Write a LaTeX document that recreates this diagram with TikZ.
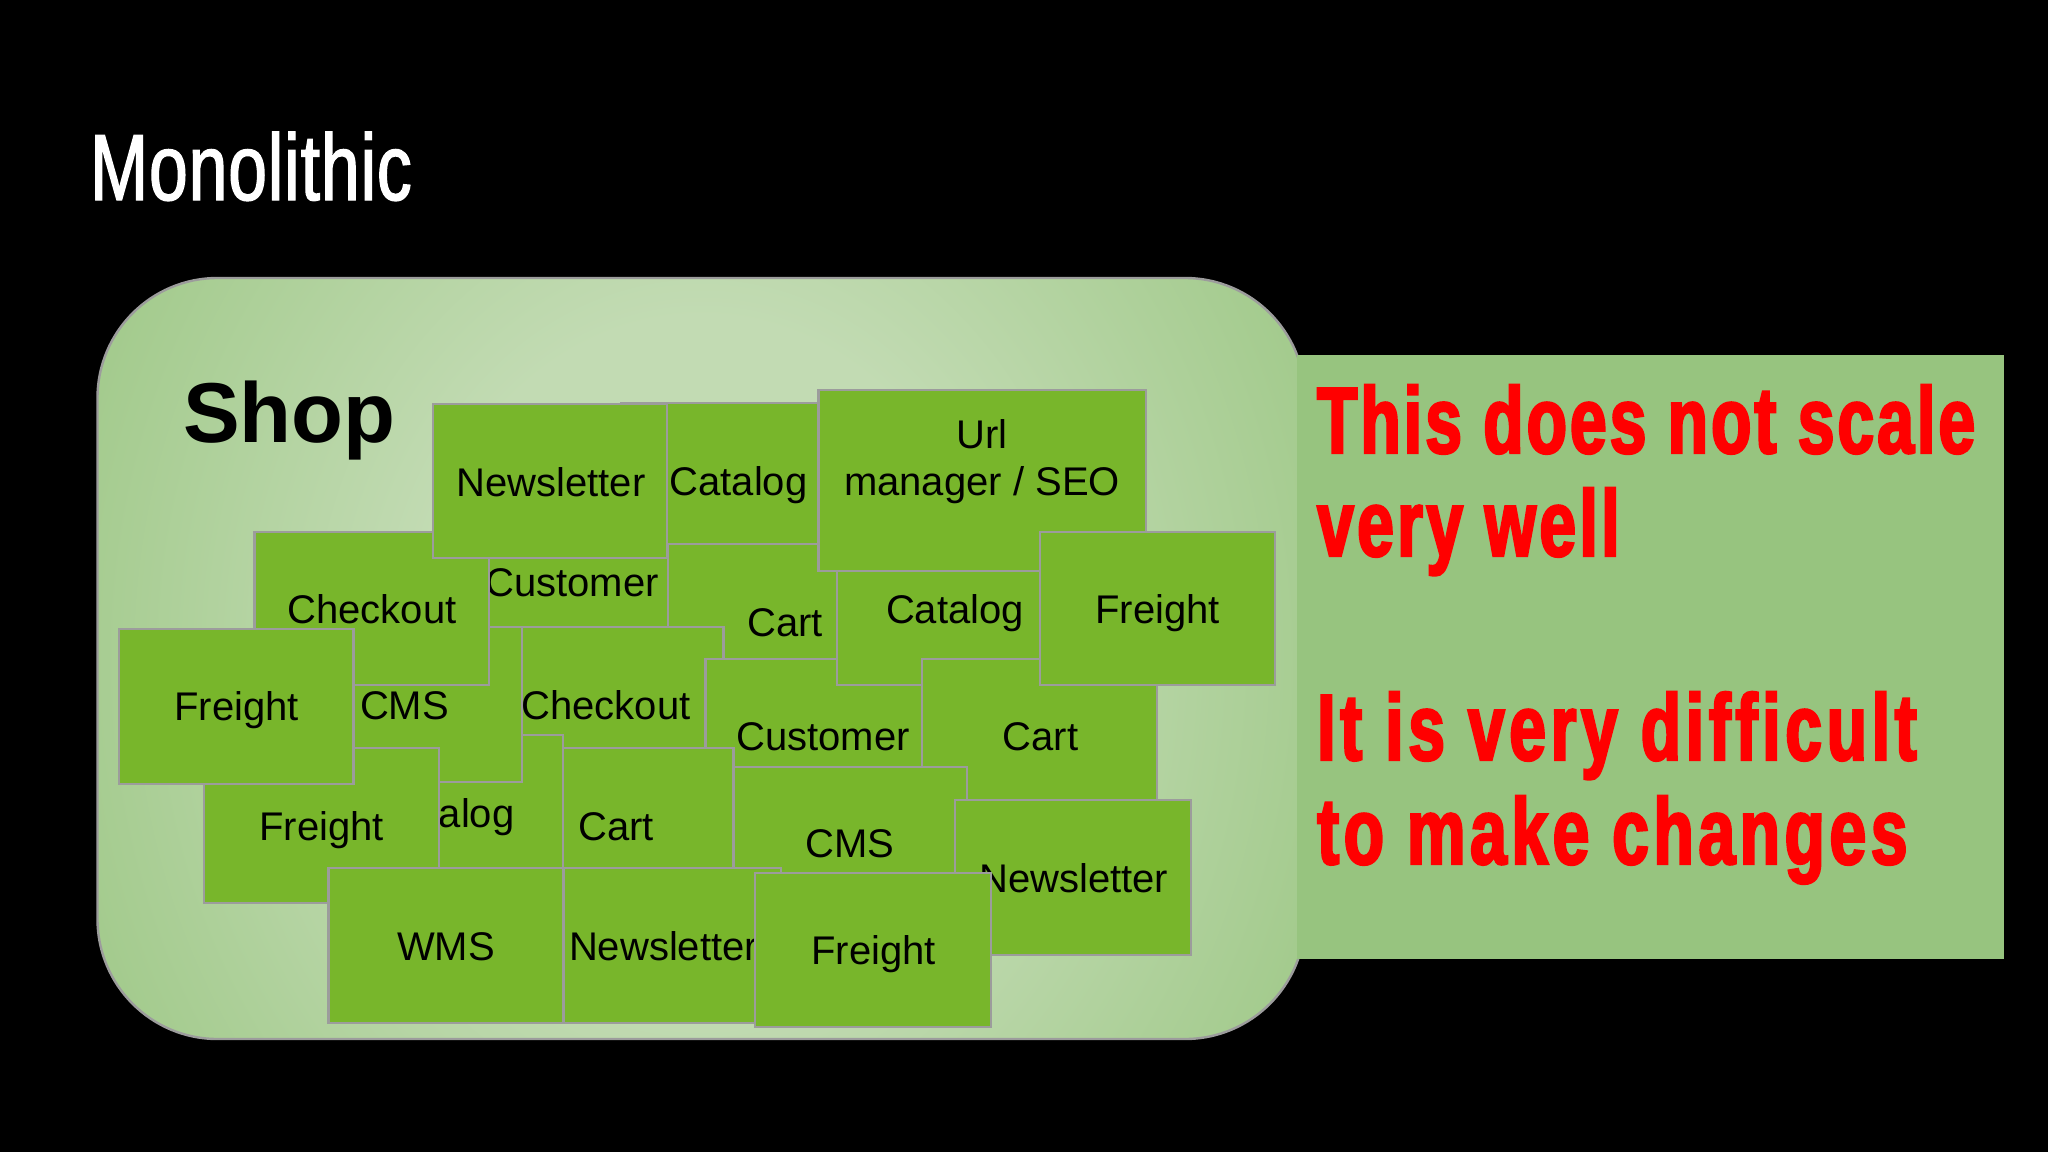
\documentclass[tikz,border=0pt]{standalone}
\usepackage{fontspec}
\setmainfont{Liberation Sans}
\newfontfamily\oswaldlight[FakeStretch=0.74,FakeBold=1.5,LetterSpace=1]{Liberation Sans}
\newfontfamily\oswaldbold[UprightFont=* Bold,FakeStretch=0.70,FakeBold=2.6]{Liberation Sans}
\definecolor{boxgreen}{HTML}{78B62B}
\definecolor{edgegray}{HTML}{9C9C9C}
\definecolor{panelgreen}{HTML}{97C47F}
\definecolor{glowin}{HTML}{C2DBB3}
\definecolor{glowout}{HTML}{93C279}
\definecolor{alertred}{HTML}{FF0000}
\pgfdeclareradialshading{shopglow}{\pgfpoint{0bp}{0bp}}{color(0bp)=(glowin); color(12bp)=(glowin); color(35bp)=(glowout); color(100bp)=(glowout)}
\tikzset{
  modbox/.style={draw=edgegray,line width=2.4pt,fill=boxgreen,inner sep=0pt,outer sep=0pt},
  modtext/.style={anchor=base,inner sep=0pt,font=\fontsize{40}{48}\selectfont,text=black},
  redtext/.style={anchor=base west,inner sep=0pt,text=alertred,font=\oswaldbold\fontsize{94}{100}\selectfont}
}
% name, left, top, right, bottom, text centre x, baseline y, text
\newcommand{\modbox}[8]{%
  \path[modbox] (#2,#3) rectangle (#4,#5);
  \coordinate (#1) at (#6,#7);
  \node[modtext] (#1-t) at (#1) {#8};
}
\begin{document}
\begin{tikzpicture}[x=1pt,y=-1pt]
\useasboundingbox (0,0) rectangle (2048,1152);
\fill[black] (0,0) rectangle (2048,1152);
\node[anchor=base west,inner sep=0pt,text=white,font=\oswaldlight\fontsize{94}{100}\selectfont] (title) at (90,200) {Monolithic};
% shop container
\begin{scope}
\clip[rounded corners=120pt] (97.5,278) rectangle (1305,1039);
\shade[shading=shopglow] (97.5,-50) rectangle (1305,1366);
\end{scope}
\draw[edgegray,line width=2.4pt,rounded corners=120pt] (97.5,278) rectangle (1305,1039);
% panel
\node[fill=panelgreen,inner sep=0pt,outer sep=0pt,minimum width=706.5pt,minimum height=604pt,anchor=north west] (panel) at (1297,355) {};
\node[anchor=base west,inner sep=0pt,font=\bfseries\fontsize{85}{90}\selectfont,text=black] (shop) at (183,442) {Shop};
\modbox{custA}{454}{480}{689}{634}{572}{596}{Customer}
\modbox{catA}{621}{403}{856}{544}{738.5}{495}{Catalog}
\modbox{cartA}{668}{544}{903}{698}{785}{636}{Cart}
\modbox{chkB}{489}{627}{723.5}{781}{606}{719}{Checkout}
\modbox{custB}{705.6}{659}{940}{814}{823}{750}{Customer}
\modbox{catC}{837}{530}{1072}{685}{955}{623}{Catalog}
\modbox{cartB}{922}{659}{1157}{814}{1040.5}{750}{Cart}
\modbox{url}{818.6}{390}{1146}{571}{982}{448}{Url}
\node[modtext] (url-t2) at (982,495) {manager / SEO};
\modbox{frD}{1040}{532}{1275}{685}{1157.5}{623}{Freight}
\modbox{cmsB}{733.5}{767}{967}{921}{850}{857}{CMS}
\modbox{cartC}{498.5}{748}{733.5}{903}{616}{840.5}{Cart}
\modbox{catB}{328}{735}{563}{890}{445.5}{827}{Catalog}
\modbox{cmsA}{287}{627}{522}{782}{404.5}{719}{CMS}
\modbox{chkA}{254.6}{531.7}{489}{685}{372}{623}{Checkout}
\modbox{newsA}{433}{404}{667}{558}{551}{496}{Newsletter}
\modbox{frB}{204}{748}{439}{903}{321.5}{840}{Freight}
\modbox{newsB}{546}{868}{781}{1023}{663.5}{960}{Newsletter}
\modbox{wms}{328.6}{868}{563.4}{1023}{446}{960}{WMS}
\modbox{newsC}{955}{800}{1191}{955}{1073.6}{892}{Newsletter}
\modbox{frC}{755}{872.7}{991}{1026.7}{873.5}{964}{Freight}
\modbox{frA}{119}{629}{353.6}{784}{236.5}{720.7}{Freight}
% red text
\node[redtext] (l1) at (1317,453) {\addfontfeature{LetterSpace=3.35}This does not scale};
\node[redtext] (l2) at (1317,556) {\addfontfeature{LetterSpace=3.7}very well};
\node[redtext] (l3) at (1317,760) {\addfontfeature{LetterSpace=5.1}It is very difficult};
\node[redtext] (l4) at (1317,864) {\addfontfeature{LetterSpace=5.0}to make changes};
\end{tikzpicture}
\end{document}
